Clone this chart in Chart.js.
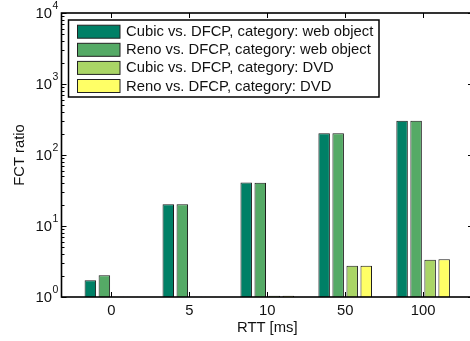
<!DOCTYPE html>
<html>
<head>
<meta charset="utf-8">
<script src="https://cdn.jsdelivr.net/npm/chart.js@4.4.0/dist/chart.umd.min.js"></script>
<style>
  html, body { margin: 0; padding: 0; background: #fff; overflow: hidden; }
  canvas { display: block; }
</style>
</head>
<body>
<canvas id="chart" width="476" height="341"></canvas>
<script>
// Data
const rttLabels = ['0', '5', '10', '50', '100'];
const seriesNames = [
    'Cubic vs. DFCP, category: web object',
    'Reno vs. DFCP, category: web object',
    'Cubic vs. DFCP, category: DVD',
    'Reno vs. DFCP, category: DVD'
];
const seriesColors = ['#008066', '#55aa66', '#aad566', '#ffff66'];
const cubicWeb = [1.72, 20.3, 41, 202, 304];
const renoWeb = [2.02, 20.3, 40.5, 202, 304];
const cubicDvd = [1.01, 1.01, 1.04, 2.75, 3.35];
const renoDvd = [1.01, 1.01, 1.04, 2.75, 3.4];
const yTickPowers = [0, 1, 2, 3, 4];

const FONT = '"Liberation Sans", Arial, sans-serif';
const FS = 14.8;

function toPoints(values) {
    return values.map((v, i) => ({ x: i + 1, y: v }));
}

// Frame, inside ticks, y labels and legend (drawn like the original plot)
const frame = {
    id: 'frame',
    afterDraw(chart) {
        const ctx = chart.ctx;
        const a = chart.chartArea;
        const xs = chart.scales.x, ys = chart.scales.y;
        ctx.save();

        // ticks on the log axis
        ctx.strokeStyle = '#000';
        ctx.lineWidth = 1;
        ctx.beginPath();
        yTickPowers.forEach(p => {
            const py = Math.round(ys.getPixelForValue(Math.pow(10, p))) + 0.5;
            ctx.moveTo(a.left, py); ctx.lineTo(a.left + 5, py);
            ctx.moveTo(a.right, py); ctx.lineTo(a.right - 5, py);
            if (p < yTickPowers[yTickPowers.length - 1]) {
                for (let m = 2; m < 10; m++) {
                    const my = Math.round(ys.getPixelForValue(m * Math.pow(10, p))) + 0.5;
                    ctx.moveTo(a.left, my); ctx.lineTo(a.left + 3, my);
                    ctx.moveTo(a.right, my); ctx.lineTo(a.right - 3, my);
                }
            }
        });
        rttLabels.forEach((_, i) => {
            const px = Math.round(xs.getPixelForValue(i + 1)) + 0.5;
            ctx.moveTo(px, a.top); ctx.lineTo(px, a.top + 5);
            ctx.moveTo(px, a.bottom); ctx.lineTo(px, a.bottom - 5);
        });
        ctx.stroke();

        // box
        ctx.lineWidth = 1.6;
        ctx.strokeStyle = '#000';
        ctx.strokeRect(a.left, a.top, a.right - a.left, a.bottom - a.top);

        // y tick labels 10^n
        ctx.fillStyle = '#111';
        yTickPowers.forEach(p => {
            const py = ys.getPixelForValue(Math.pow(10, p));
            ctx.font = FS + 'px ' + FONT;
            ctx.textAlign = 'right';
            ctx.textBaseline = 'middle';
            ctx.fillText('10', a.left - 9.5, py + 1);
            ctx.font = '10.5px ' + FONT;
            ctx.textAlign = 'left';
            ctx.fillText(String(p), a.left - 9, py - 6.5);
        });

        // legend
        const lx = 68.5, ly = 20, lw = 310.5, lh = 77;
        ctx.fillStyle = '#fff';
        ctx.fillRect(lx, ly, lw, lh);
        ctx.lineWidth = 1.5;
        ctx.strokeStyle = '#000';
        ctx.strokeRect(lx, ly, lw, lh);
        chart.data.datasets.forEach((ds, i) => {
            const cy = 31.7 + i * 18.1;
            ctx.fillStyle = ds.backgroundColor;
            ctx.fillRect(77, cy - 6.5, 43, 13);
            ctx.lineWidth = 1;
            ctx.strokeStyle = '#222';
            ctx.strokeRect(77.5, cy - 6.5, 42.5, 13);
            ctx.fillStyle = '#111';
            ctx.font = FS + 'px ' + FONT;
            ctx.textAlign = 'left';
            ctx.textBaseline = 'middle';
            ctx.fillText(ds.label, 126, cy + 0.5);
        });

        ctx.restore();
    }
};

const datasets = [cubicWeb, renoWeb, cubicDvd, renoDvd].map((vals, i) => ({
    label: seriesNames[i],
    data: toPoints(vals),
    backgroundColor: seriesColors[i],
    borderColor: '#1a1a1a',
    borderWidth: 1,
    categoryPercentage: 0.72,
    barPercentage: 0.82
}));

new Chart(document.getElementById('chart'), {
    type: 'bar',
    data: { datasets: datasets },
    options: {
        responsive: false,
        devicePixelRatio: 1,
        animation: false,
        layout: { padding: { top: 13, right: 3, left: 0, bottom: 0 } },
        plugins: {
            legend: { display: false },
            tooltip: { enabled: false }
        },
        scales: {
            x: {
                type: 'linear',
                offset: false,
                min: 0.36,
                max: 5.64,
                afterBuildTicks: s => { s.ticks = rttLabels.map((_, i) => ({ value: i + 1 })); },
                ticks: {
                    callback: (v, i) => rttLabels[i],
                    font: { family: FONT, size: FS },
                    color: '#111',
                    padding: 5,
                    maxRotation: 0,
                    autoSkip: false
                },
                grid: { display: false, drawTicks: false, offset: false },
                border: { display: false },
                title: {
                    display: true,
                    text: 'RTT [ms]',
                    font: { family: FONT, size: FS },
                    color: '#111',
                    padding: { top: 0, bottom: 4.5 }
                },
                afterFit: s => { s.height = 44; }
            },
            y: {
                type: 'logarithmic',
                min: 1,
                max: 10000,
                ticks: { display: false },
                grid: { display: false },
                border: { display: false },
                title: {
                    display: true,
                    text: 'FCT ratio',
                    font: { family: FONT, size: FS },
                    color: '#111',
                    padding: { top: 11, bottom: 0 }
                },
                afterFit: s => { s.width = 61.5; }
            }
        }
    },
    plugins: [frame]
});
</script>
</body>
</html>
